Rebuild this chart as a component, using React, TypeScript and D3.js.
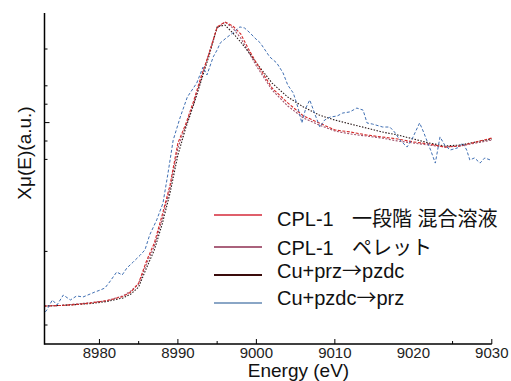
import React from "react";
import * as d3 from "d3";

// ---- data ----
const energyGrid = [8973, 8975, 8977, 8979, 8981, 8983, 8984, 8985, 8986, 8987, 8988, 8989, 8990, 8991, 8992, 8993, 8994, 8995, 8996, 8997, 8998, 8999, 9000, 9002, 9004, 9006, 9008, 9010, 9012, 9014, 9016, 9018, 9020, 9022, 9024, 9026, 9028, 9030];

const redMu = [0.103, 0.106, 0.111, 0.12, 0.133, 0.155, 0.179, 0.228, 0.348, 0.446, 0.598, 0.761, 0.989, 1.092, 1.217, 1.356, 1.478, 1.62, 1.647, 1.625, 1.582, 1.5, 1.424, 1.288, 1.207, 1.136, 1.098, 1.06, 1.049, 1.033, 1.022, 1.011, 0.995, 0.984, 0.967, 0.973, 0.995, 1.016];

const maroonMu = [0.103, 0.106, 0.114, 0.122, 0.133, 0.158, 0.185, 0.223, 0.332, 0.429, 0.576, 0.745, 0.962, 1.082, 1.201, 1.342, 1.484, 1.614, 1.647, 1.614, 1.56, 1.484, 1.408, 1.277, 1.19, 1.125, 1.087, 1.054, 1.038, 1.027, 1.016, 1.0, 0.989, 0.978, 0.967, 0.973, 0.989, 1.005];

const darkMu = [0.103, 0.106, 0.111, 0.117, 0.128, 0.147, 0.168, 0.207, 0.31, 0.408, 0.549, 0.717, 0.924, 1.071, 1.196, 1.332, 1.467, 1.62, 1.63, 1.587, 1.538, 1.484, 1.424, 1.315, 1.239, 1.185, 1.141, 1.114, 1.092, 1.071, 1.049, 1.033, 1.011, 0.989, 0.973, 0.978, 0.995, 1.011];

const blueEnergy = [8973.1, 8973.3, 8974.0, 8974.6, 8975.4, 8976.3, 8977.1, 8977.9, 8978.8, 8979.4, 8980.1, 8980.7, 8981.3, 8982.2, 8982.9, 8983.5, 8984.3, 8985.2, 8985.8, 8986.4, 8987.3, 8988.1, 8988.7, 8989.4, 8990.3, 8991.2, 8991.8, 8992.4, 8993.2, 8993.7, 8994.5, 8995.0, 8995.4, 8996.3, 8997.0, 8997.9, 8998.5, 8999.2, 8999.8, 9000.5, 9001.1, 9001.7, 9002.6, 9003.4, 9004.0, 9004.7, 9005.2, 9005.8, 9006.3, 9006.8, 9007.5, 9008.1, 9008.7, 9009.4, 9010.3, 9011.0, 9011.9, 9012.8, 9013.6, 9014.1, 9014.8, 9016.1, 9017.0, 9017.6, 9018.3, 9019.2, 9019.9, 9020.8, 9021.3, 9021.7, 9022.2, 9022.8, 9023.4, 9024.0, 9024.7, 9025.6, 9026.3, 9026.8, 9027.2, 9027.8, 9028.5, 9029.1, 9029.8];

const blueMu = [0.071, 0.082, 0.136, 0.109, 0.163, 0.136, 0.158, 0.152, 0.168, 0.179, 0.19, 0.201, 0.234, 0.288, 0.272, 0.31, 0.342, 0.38, 0.408, 0.489, 0.571, 0.663, 0.815, 1.005, 1.13, 1.239, 1.277, 1.315, 1.402, 1.359, 1.457, 1.495, 1.533, 1.565, 1.587, 1.62, 1.614, 1.587, 1.56, 1.533, 1.495, 1.457, 1.424, 1.37, 1.304, 1.261, 1.196, 1.098, 1.179, 1.223, 1.141, 1.076, 1.114, 1.13, 1.136, 1.152, 1.158, 1.179, 1.168, 1.098, 1.092, 1.076, 1.076, 1.049, 1.005, 0.967, 1.016, 1.098, 1.049, 1.005, 0.951, 0.88, 1.022, 0.978, 0.951, 0.962, 0.989, 0.951, 0.897, 0.908, 0.88, 0.908, 0.897];

const legendLabels = ["CPL-1", "CPL-1", "Cu+prz\u2192pzdc", "Cu+pzdc\u2192prz"];
const legendJapanese = ["\u4e00\u6bb5\u968e \u6df7\u5408\u6eb6\u6db2", "\u30da\u30ec\u30c3\u30c8", "", ""];

const xTickValues = [8980, 8990, 9000, 9010, 9020, 9030];
const xMajorTicks = [8980, 8990, 9000, 9010, 9030];
const xMinorTicks = [8985, 8995, 9025];
const yMinorTicks = [0, 0.4, 0.9, 1.0, 1.2, 1.3, 1.5];
const yMajorTicks = [1.1];

const xTitle = "Energy (eV)";
const yTitle = "X\u03bc(E)(a.u.)";

// ---- layout ----
const W = 511;
const H = 381;
const LEFT = 44.5;
const RIGHT = 491.8;
const AXIS_Y = 344;
const TOP = 13;

const FONT = "'Liberation Sans', Arial, 'Noto Sans CJK JP', sans-serif";
const CJK = "'Noto Sans CJK JP', sans-serif";

export default function App() {
  const x = d3.scaleLinear().domain([8973, 9030]).range([LEFT, RIGHT]);
  const y = d3.scaleLinear().domain([0, 1]).range([325, 141]);

  const line = d3
    .line<[number, number]>()
    .x((d) => x(d[0]))
    .y((d) => y(d[1]))
    .curve(d3.curveLinear);

  const gridPairs = (vals: number[]) =>
    energyGrid.map((e, i) => [e, vals[i]] as [number, number]);
  const bluePairs = blueEnergy.map((e, i) => [e, blueMu[i]] as [number, number]);

  const series = [
    { d: line(gridPairs(maroonMu)), color: "#a0506a", dash: "2 1.5", w: 1.1 },
    { d: line(gridPairs(darkMu)), color: "#2a1a1a", dash: "1.5 1.5", w: 1.1 },
    { d: line(gridPairs(redMu)), color: "#d42a2a", dash: "3 1.5", w: 1.1 },
    { d: line(bluePairs), color: "#3f6fb3", dash: "3 2", w: 1 },
  ];

  const legendLines = [
    { y: 215, color: "#d42a3a", w: 1.4 },
    { y: 247, color: "#8e2e50", w: 1.4 },
    { y: 275, color: "#3a0c0c", w: 2 },
    { y: 303, color: "#8aa6c6", w: 2 },
  ];
  const textBaselines = [226, 255, 278, 305];

  const renderLabel = (lab: string) => {
    const parts = lab.split("\u2192");
    const out: React.ReactNode[] = [];
    parts.forEach((p, i) => {
      out.push(<tspan key={"p" + i}>{p}</tspan>);
      if (i < parts.length - 1)
        out.push(
          <tspan key={"a" + i} fontFamily={CJK}>
            {"\u2192"}
          </tspan>
        );
    });
    return out;
  };

  return (
    <svg
      width={W}
      height={H}
      style={{ position: "absolute", left: 0, top: 0, background: "#fff" }}
      fontFamily={FONT}
    >
      <rect x={0} y={0} width={W} height={H} fill="#fff" />
      {series.map((s, i) => (
        <path
          key={i}
          d={s.d || ""}
          fill="none"
          stroke={s.color}
          strokeWidth={s.w}
          strokeDasharray={s.dash}
        />
      ))}

      {/* axes */}
      <line x1={LEFT} x2={LEFT} y1={TOP} y2={AXIS_Y + 0.75} stroke="#000" strokeWidth={1.5} />
      <line x1={LEFT} x2={RIGHT} y1={AXIS_Y} y2={AXIS_Y} stroke="#000" strokeWidth={1.5} />
      {xMajorTicks.map((t) => (
        <line key={"xM" + t} x1={x(t)} x2={x(t)} y1={AXIS_Y} y2={AXIS_Y - 5} stroke="#000" strokeWidth={1} />
      ))}
      {xMinorTicks.map((t) => (
        <line key={"xm" + t} x1={x(t)} x2={x(t)} y1={AXIS_Y} y2={AXIS_Y - 3} stroke="#000" strokeWidth={1} />
      ))}
      {yMinorTicks.map((t) => (
        <line key={"ym" + t} x1={LEFT} x2={LEFT + 3} y1={y(t)} y2={y(t)} stroke="#000" strokeWidth={1} />
      ))}
      {yMajorTicks.map((t) => (
        <line key={"yM" + t} x1={LEFT} x2={LEFT + 5} y1={y(t)} y2={y(t)} stroke="#000" strokeWidth={1} />
      ))}
      {xTickValues.map((t) => (
        <text key={"xl" + t} x={x(t)} y={358} fontSize={15} textAnchor="middle" fill="#222">
          {t}
        </text>
      ))}
      <text x={298.5} y={377} fontSize={19} textAnchor="middle" fill="#111">
        {xTitle}
      </text>
      <text
        transform={`translate(31,153) rotate(-90)`}
        fontSize={19}
        textAnchor="middle"
        fill="#111"
      >
        {yTitle}
      </text>

      {/* legend */}
      {legendLines.map((l, i) => (
        <line key={"ll" + i} x1={214} x2={262} y1={l.y} y2={l.y} stroke={l.color} strokeWidth={l.w} />
      ))}
      {legendLabels.map((lab, i) => (
        <text key={"lt" + i} x={277} y={textBaselines[i]} fontSize={20} fill="#111">
          {renderLabel(lab)}
          {legendJapanese[i] ? (
            <tspan x={352} style={{ whiteSpace: "pre" }}>{legendJapanese[i]}</tspan>
          ) : null}
        </text>
      ))}
    </svg>
  );
}
